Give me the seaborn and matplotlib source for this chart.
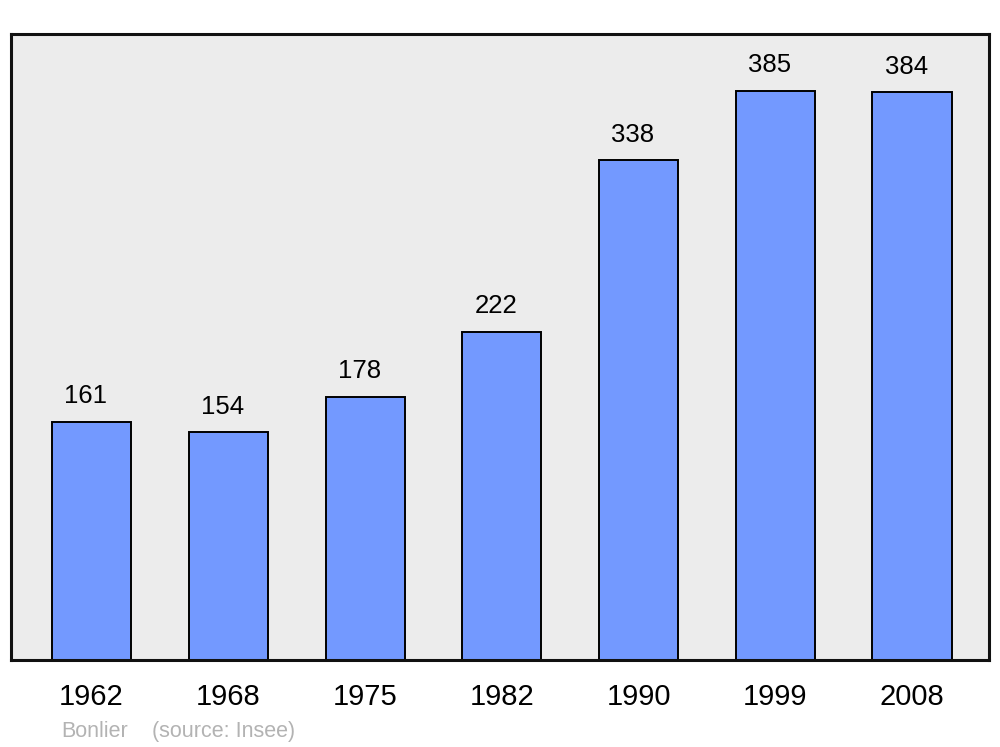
import matplotlib
matplotlib.use("Agg")
import matplotlib.pyplot as plt
import pandas as pd
import seaborn as sns

years = ["1962", "1968", "1975", "1982", "1990", "1999", "2008"]
population = [161, 154, 178, 222, 338, 385, 384]

BAR_COLOR = "#7399ff"
BG_COLOR = "#ececec"

df = pd.DataFrame({"year": years, "population": population})

sns.set_style("white")
plt.rcParams["font.family"] = ["Liberation Sans", "DejaVu Sans"]

fig = plt.figure(figsize=(10, 7.47), dpi=100)
ax = fig.add_axes([0.011, 1 - 660 / 747, 0.978, 626 / 747])
ax.set_facecolor(BG_COLOR)

sns.barplot(data=df, x="year", y="population", color=BAR_COLOR,
            width=0.578, edgecolor="black", linewidth=1.4, saturation=1,
            ax=ax, zorder=2)

# value labels above each bar
for i, v in enumerate(population):
    ax.annotate(str(v), xy=(i, v), xytext=(-4, 18.5), textcoords="offset points",
                ha="center", va="center", fontsize=18.5, color="black")

ax.set_xlim(-0.589, 6.563)
ax.set_ylim(0, 423.5)
ax.set_yticks([])
ax.set_xlabel("")
ax.set_ylabel("")
ax.tick_params(axis="x", length=0, pad=16.5, labelsize=21, labelcolor="black")
for spine in ax.spines.values():
    spine.set_visible(True)
    spine.set_linewidth(2.2)
    spine.set_color("#111111")

fig.text(0.061, 1 - 737 / 747, "Bonlier", color="#b3b3b3", fontsize=15.5,
         va="baseline", ha="left")
fig.text(0.152, 1 - 737 / 747, "(source: Insee)", color="#b3b3b3", fontsize=15.5,
         va="baseline", ha="left")

fig.savefig("out.png", dpi=100, facecolor="white")
